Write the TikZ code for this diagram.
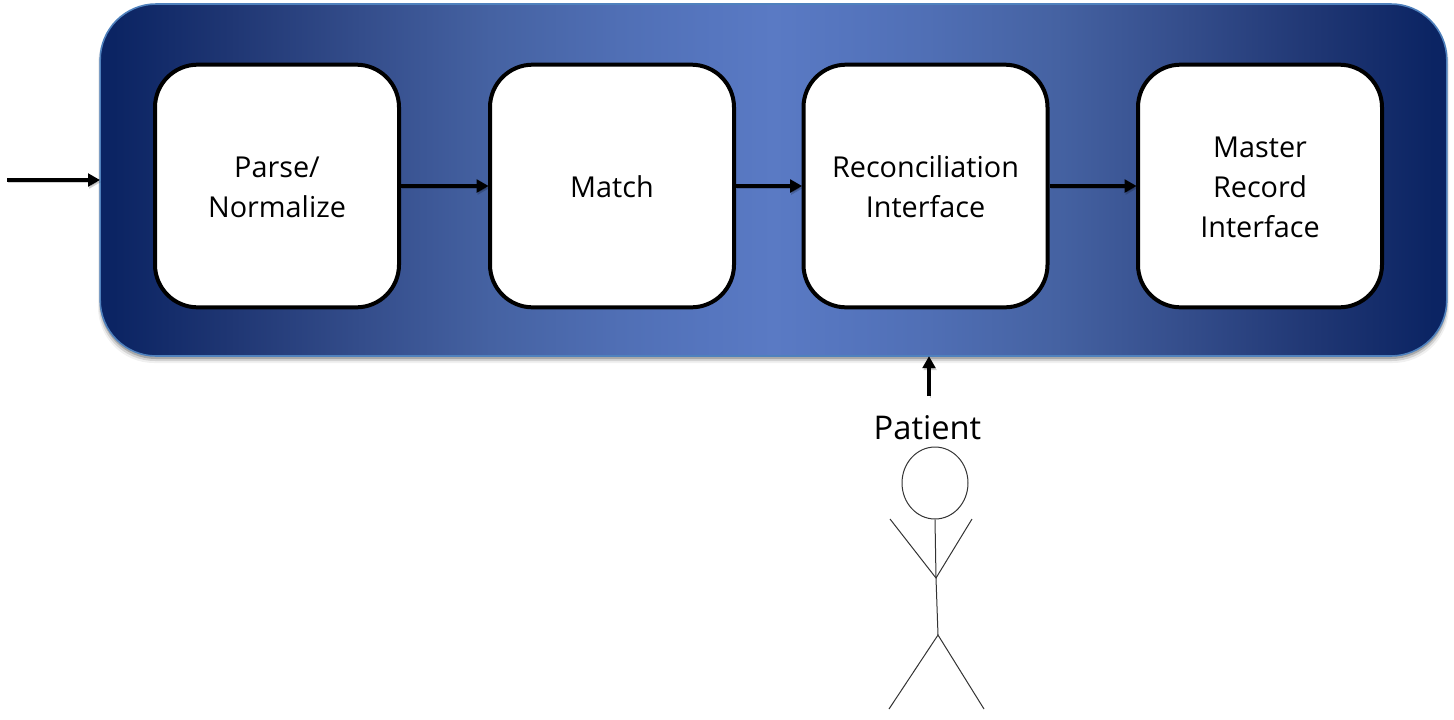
\documentclass[tikz,border=0pt]{standalone}
\usepackage{fontspec}
\setmainfont{Open Sans}
\usetikzlibrary{arrows.meta,calc,shapes.geometric}
\definecolor{pdark}{HTML}{0B2463}
\definecolor{plight}{HTML}{5A7AC4}
\definecolor{pedge}{HTML}{4F81BD}
\definecolor{pa}{HTML}{1F3673}
\definecolor{pb}{HTML}{344D8B}
\definecolor{pc}{HTML}{4562A2}
\definecolor{pd}{HTML}{506FB5}
\definecolor{pe}{HTML}{5575BE}
\newcommand\topfix{\rule{0pt}{18pt}}
\pgfdeclarehorizontalshading{panelshade}{100bp}{
  color(0bp)=(pdark);
  color(25.5bp)=(pdark);
  color(29.8bp)=(pa);
  color(34.7bp)=(pb);
  color(39.5bp)=(pc);
  color(44.3bp)=(pd);
  color(47.3bp)=(pe);
  color(50bp)=(plight);
  color(52.7bp)=(pe);
  color(55.7bp)=(pd);
  color(60.5bp)=(pc);
  color(65.3bp)=(pb);
  color(70.2bp)=(pa);
  color(74.5bp)=(pdark);
  color(100bp)=(pdark)}
\tikzset{
  panelbox/.style={draw=pedge,line width=1.2pt,rounded corners=42pt,minimum width=1010pt,minimum height=264pt,inner sep=0pt},
  stagebox/.style={draw=black,line width=3pt,fill=white,rounded corners=32pt,minimum width=183pt,minimum height=182pt,inner sep=0pt,align=center,font=\fontsize{21.6}{30}\selectfont},
  flow/.style={draw=black,line width=3pt,-{Triangle[length=9pt,width=9.5pt]},shorten >=-0.5pt,
    preaction={draw=black,opacity=0.18,transform canvas={shift={(0.8pt,-1.5pt)}}}},
  stick/.style={draw=black!80,line width=0.75pt},
  lbl/.style={inner sep=0pt,font=\fontsize{24.5}{30}\selectfont},
  halo/.style={fill=black,rounded corners=42pt}
}
\begin{document}
\begin{tikzpicture}[x=0.75pt,y=-0.75pt]
\useasboundingbox (0,0) rectangle (1454,719);
\fill[halo,opacity=0.06] (98,8) rectangle (1449,363);
\fill[halo,opacity=0.12] (99,8) rectangle (1448,361);
\fill[halo,opacity=0.2] (100,8) rectangle (1447,359);
\node[panelbox,shade,shading=panelshade] (panel) at (773.5,180) {};
\node[stagebox] (parse) at (277,186) {\topfix Parse/\\Normalize};
\node[stagebox] (match) at (612,186) {\topfix Match};
\node[stagebox] (recon) at (925.5,186) {\topfix Reconciliation\\Interface};
\node[stagebox] (master) at (1260,186) {\topfix Master\\Record\\Interface};
\coordinate (src) at (7,180);
\coordinate (pat) at (929,396);
\draw[flow] (src) -- (src -| panel.west);
\draw[flow] (parse) -- (match);
\draw[flow] (match) -- (recon);
\draw[flow] (recon) -- (master);
\draw[flow] (pat) -- (pat |- panel.south);
\node[lbl] (patient) at (927.5,427.5) {Patient};
\node[stick,ellipse,minimum width=49.5pt,minimum height=54pt,inner sep=0pt] (head) at (935,483) {};
\coordinate (hip) at (938,635);
\coordinate (chest) at (936,578);
\coordinate (handl) at (890,519);
\coordinate (handr) at (972,519);
\coordinate (footl) at (889,709);
\coordinate (footr) at (984,709);
\draw[stick] (head.south) -- (chest) -- (hip);
\draw[stick] (handl) -- (chest) -- (handr);
\draw[stick] (footl) -- (hip) -- (footr);
\end{tikzpicture}
\end{document}
